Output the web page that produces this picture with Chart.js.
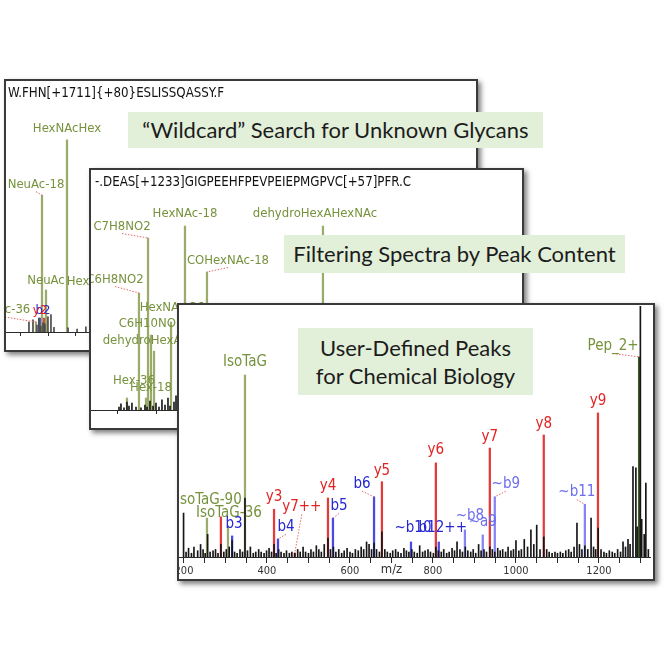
<!DOCTYPE html>
<html><head><meta charset="utf-8">
<script src="https://cdn.jsdelivr.net/npm/chart.js@4.4.1/dist/chart.umd.min.js"></script>
<style>
html,body{margin:0;padding:0;background:#fff;width:664px;height:664px;overflow:hidden;}
.panel{position:absolute;background:#fff;border:2px solid #3a3a3a;box-shadow:3px 3px 5px rgba(0,0,0,0.5);overflow:hidden;box-sizing:border-box;}
.panel canvas{position:absolute;top:0;}
.box{position:absolute;background:#e2efd9;color:#1c1c1c;font-family:Lato,"Open Sans",sans-serif;display:flex;flex-direction:column;align-items:center;justify-content:center;white-space:nowrap;line-height:1.25;}
</style></head><body>
<div class="panel" id="p1" style="left:4px;top:79px;width:474px;height:273px;z-index:1"><canvas id="c1" width="470" height="269" style="left:0"></canvas></div>
<div class="box" style="left:128px;top:112px;width:415px;height:36px;z-index:2;font-size:22px">“Wildcard” Search for Unknown Glycans</div>
<div class="panel" id="p2" style="left:89px;top:168px;width:435px;height:262px;z-index:3"><canvas id="c2" width="431" height="258" style="left:0"></canvas></div>
<div class="box" style="left:284px;top:235px;width:341px;height:38px;z-index:4;font-size:22px">Filtering Spectra by Peak Content</div>
<div class="panel" id="p3" style="left:177px;top:303px;width:478px;height:278px;z-index:5"><canvas id="c3" width="504" height="274" style="left:-30px"></canvas></div>
<div class="box" style="left:298px;top:328px;width:235px;height:67px;z-index:6;font-size:22px"><div>User-Defined Peaks</div><div>for Chemical Biology</div></div>
<script>
// ---------------- Panel 1: glycan "wildcard" search ----------------
const P1_TITLE = 'W.FHN[+1711]{+80}ESLISSQASSY.F';
const P1_ION_LABELS = ['NeuAc-36', 'b2', 'y2', 'NeuAc-18', 'NeuAc', 'HexNAcHex', 'HexNAcHexNeuAc'];
const P1_ION_MZ     = [254.5, 269, 283.6, 276.4, 290.9, 367.3, 657];
const P1_ION_INT    = [4.3, 6, 6, 59, 18.1, 82.8, 17];
const P1_ION_TYPE   = ['glyco', 'b', 'y', 'glyco', 'glyco', 'glyco', 'glyco'];
const P1_NOISE = [[229,4.3],[243.6,5.2],[258,3],[265,6],[272,2.5],[280,4],[287,3.5],[298,6.5],[309,7.5],[320,2],[371,1.8],[404,1.3],[436,2.2],[470,1.5],[512,1],[545,1.5],[590,1.2]];
const P1_TICKS = [200,300,400,500,600,700,800,900,1000,1100,1200,1300,1400,1500,1600,1700,1800];

// ---------------- Panel 2: filtering by peak content ----------------
const P2_TITLE = '-.DEAS[+1233]GIGPEEHFPEVPEIEPMGPVC[+57]PFR.C';
const P2_ION_LABELS = ['Hex-36', 'C6H8NO2', 'Hex-18', 'C7H8NO2', 'C6H10NO3', 'dehydroHexA', 'HexNAc-36', 'HexNAc-18', 'COHexNAc-18', 'dehydroHexAHexNAc'];
const P2_ION_MZ     = [111.5, 126.9, 135.9, 138.5, 142.3, 146.2, 168, 185.9, 214.1, 362.8];
const P2_ION_INT    = [5.7, 55.7, 5.7, 81.9, 35.7, 28, 41.9, 87.6, 65.7, 87.6];
const P2_ION_TYPE   = ['glyco','glyco','glyco','glyco','glyco','glyco','glyco','glyco','glyco','glyco'];
const P2_NOISE = [[101.3,1.4],[103.8,2.9],[107.7,1],[111.5,3.8],[114.1,1.9],[117.9,3.3],[123.1,1.4],[129.5,1],[134.6,2.4],[137.2,1.4],[141,4.3],[144.9,1.9],[148.7,3.3],[152.6,1.4],[156.4,4.8],[160.3,2.4],[164.1,5.7],[166.7,1.9],[171.8,3.8],[174.4,6.7]];
const P2_TICKS = [100,150,200,250,300,350,400,450,500,550,600];

// ---------------- Panel 3: user-defined peaks ----------------
const P3_ION_LABELS = ['isoTaG-90','','IsoTaG-36','b3','IsoTaG','y3','b4','y7++','y4','b5','b6','y5','~b10','y6','b12++','~b8','~a9','y7','~b9','y8','~b11','y9','Pep_2+'];
const P3_ION_MZ     = [255.4, 289, 306, 316, 347, 417, 426.5, 467, 547, 559, 658, 677, 747, 807, 814, 877, 920, 937, 949, 1067, 1166, 1197.6, 1296.7];
const P3_ION_INT    = [15.5, 16, 12, 8.4, 72.5, 19, 7.2, 1.6, 23.5, 15.5, 24, 30, 6, 37.5, 6, 10.8, 8.8, 43.4, 24, 48.6, 21, 57.4, 79.7];
const P3_ION_TYPE   = ['glyco','y','glyco','b','glyco','y','b','y','y','b','b','y','b','y','b','bw','bw','y','bw','y','bw','y','pep'];
const P3_NOISE = [[199,17.5],[205,2],[211,3.5],[218,1.5],[224,4],[233,2.5],[240,5],[246,3],[251,1.5],[257,9],[263,2],[270,2.5],[276,3],[282,1.5],[289,5],[296,2],[302,3],[309,4],[316,6.5],[322,2],[328,1.5],[335,3],[341,2],[347,23.5],[353,2.5],[360,4],[367,1.5],[373,2],[380,3],[386,2],[393,1.5],[399,2.5],[405,3.5],[411,2],[417,5],[422,1.5],[428,3],[434,2],[441,1.5],[447,2.5],[454,1.5],[460,2],[467,1.5],[474,3],[480,2],[487,4],[493,2],[500,1.5],[506,3],[512,2],[519,4.5],[525,3],[531,2],[538,5],[547,7.5],[553,3],[560,4],[566,2],[573,3],[580,1.5],[586,2.5],[593,3.5],[600,2],[606,1.5],[613,3],[620,2.5],[627,4],[633,3],[640,6],[646,5],[652,3],[658,5.5],[664,3],[671,2],[677,10],[684,3],[690,2],[697,1.5],[703,2.5],[710,3],[716,2],[723,1.5],[730,3.5],[736,2.5],[742,2],[749,3],[755,2],[762,1.5],[768,4.5],[775,2],[781,2.5],[788,3],[794,2],[801,1.5],[807,4],[813,2.5],[820,2],[826,3],[833,1.5],[839,2],[846,3.5],[852,2.5],[858,6],[865,3],[871,2],[878,4],[884,2.5],[891,2],[897,3],[903,1.5],[910,5],[916,2.5],[923,3],[929,2],[937,4],[943,3],[949,2],[956,3.5],[962,2.5],[968,3],[975,2],[981,4],[988,2.5],[994,3],[1000,6.5],[1007,2.5],[1013,3],[1020,7],[1028,4],[1036,10.8],[1043,5],[1050,12.7],[1058,3],[1067,8],[1074,3],[1080,2],[1087,1.5],[1094,2],[1100,1.5],[1107,2],[1113,1.5],[1120,2.5],[1127,3],[1133,2],[1140,4],[1147,13.5],[1153,5],[1159,3],[1166,4.5],[1173,3],[1181,15.5],[1187,4],[1192,3],[1198,11.5],[1205,3],[1212,2],[1218,1.5],[1225,2.5],[1232,2],[1238,1.5],[1245,3],[1252,2],[1258,6],[1264,4],[1270,7],[1275,5],[1282,36],[1289,35.5],[1292,12],[1299.8,100],[1303,15],[1309,9],[1313,29.5],[1319,3]];
const P3_TICKS = [200,250,300,350,400,450,500,550,600,650,700,750,800,850,900,950,1000,1050,1100,1150,1200,1250,1300];
const P3_TICK_LABELS = ['200','400','600','800','1000','1200'];
const P3_AXIS_TITLE = 'm/z';

// ---------------- styles (not data) ----------------
const COLORS = {
  glyco: {label:'#76923c', line:'#9aab6c'},
  pep:   {label:'#76923c', line:'#3f5a26'},
  y:     {label:'#e32222', line:'#e53a3a'},
  b:     {label:'#2525d4', line:'#4a4ae2'},
  bw:    {label:'#6c6cf0', line:'#8484f4'}
};
const SMALL_FONT = '"DejaVu Sans Condensed","Liberation Sans",Arial,sans-serif';
// label offsets [dx, dy, leader] relative to the peak top (pixels)
const P1_LABEL_POS = [[-34,-12,1],[3,-7,0],[-4,-7,0],[-6,-10,1],[0,-9,0],[0,-11,0],[-27,-11,1]];
const P2_LABEL_POS = [[7,-17,0],[-24,-13,1],[5,-10,0],[-26,-11,1],[0,-11,0],[-12,-11,0],[1,-14,0],[0,-12,0],[21,-11,1],[-8,-12,0]];
const P3_LABEL_POS = [[2,-18,0],[0,-12,0],[1,-14,0],[2,-12,0],[0,-13,0],[0,-12,0],[8,-12,1],[7,-46,1],[0,-12,0],[6,-12,1],[-12,-13,1],[0,-11,0],[2,-14,0],[0,-13,0],[4,-14,0],[5,-14,0],[0,-13,0],[0,-11,0],[11,-13,1],[0,-11,0],[-8,-12,1],[0,-12,0],[-26,-11,1]];

function labelPlugin(spec){
  return {
    id: 'peakLabels',
    afterDatasetsDraw(chart){
      const ctx = chart.ctx, xs = chart.scales.x, ys = chart.scales.y;
      ctx.save();
      ctx.textAlign = 'center';
      ctx.textBaseline = 'middle';
      ctx.font = spec.labelSize + 'px ' + SMALL_FONT;
      spec.labels.forEach((text, i) => {
        if (!text) return;
        const px = xs.getPixelForValue(spec.mz[i]);
        const py = ys.getPixelForValue(spec.ints[i]);
        const pos = spec.labelPos[i] || [0,-12,0];
        const lx = px + pos[0], ly = py + pos[1];
        if (pos[2]) {
          ctx.save();
          ctx.strokeStyle = '#e46a6a';
          ctx.lineWidth = 1;
          ctx.setLineDash([1.5,1.5]);
          ctx.beginPath();
          ctx.moveTo(lx, ly + spec.labelSize*0.5);
          ctx.lineTo(px, py);
          ctx.stroke();
          ctx.restore();
        }
        ctx.fillStyle = COLORS[spec.types[i]].label;
        ctx.fillText(text, lx, ly);
      });
      if (spec.title) {
        ctx.textAlign = 'left';
        ctx.fillStyle = '#111';
        ctx.font = '13.2px ' + SMALL_FONT;
        ctx.fillText(spec.title, spec.titlePos[0], spec.titlePos[1]);
      }
      if (spec.axisTitle) {
        ctx.textAlign = 'center';
        ctx.fillStyle = '#333';
        ctx.font = '13px ' + SMALL_FONT;
        ctx.fillText(spec.axisTitle, xs.getPixelForValue(spec.axisTitleValue), spec.axisTitleY);
      }
      ctx.restore();
    }
  };
}

function buildChart(id, spec){
  const ions = spec.mz.map((m,i) => ({x:m, y:spec.ints[i]}));
  const noise = spec.noise.map(p => ({x:p[0], y:p[1]}));
  return new Chart(document.getElementById(id), {
    type: 'bar',
    data: { datasets: [
      { data: noise, backgroundColor: spec.noiseColor, barThickness: 1, grouped: false, order: 0, borderWidth: 0 },
      { data: ions, backgroundColor: spec.types.map(t => COLORS[t].line), barThickness: 1.6, grouped: false, order: 1, borderWidth: 0 }
    ]},
    options: {
      responsive: false, animation: false, devicePixelRatio: 1, events: [],
      layout: { padding: spec.padding },
      plugins: { legend: {display:false}, tooltip: {enabled:false} },
      scales: {
        x: {
          type: 'linear', min: spec.min, max: spec.max, offset: false,
          afterBuildTicks: s => { s.ticks = spec.ticks.map(v => ({value:v})); },
          afterFit: s => { s.height = spec.axisHeight; },
          grid: { drawOnChartArea: false, drawTicks: true, tickLength: spec.tickLength, color: '#2a2a2a', lineWidth: 1, offset: false },
          border: { display: true, color: '#2a2a2a', width: 1 },
          ticks: { autoSkip: false, maxRotation: 0, minRotation: 0, padding: 2, color: '#333',
                   font: { family: SMALL_FONT, size: 11 },
                   callback: v => spec.tickLabels.includes(String(v)) ? String(v) : '' }
        },
        y: { display: false, min: 0, max: 100 }
      }
    },
    plugins: [labelPlugin(spec)]
  });
}

buildChart('c1', {
  labels: P1_ION_LABELS, mz: P1_ION_MZ, ints: P1_ION_INT, types: P1_ION_TYPE, labelPos: P1_LABEL_POS,
  noise: P1_NOISE, noiseColor: '#4a4a4a', ticks: P1_TICKS, tickLabels: [],
  min: 145.5, max: 1854.5, padding: {left:0, right:0, top:19, bottom:10}, axisHeight: 8, tickLength: 4,
  labelSize: 13, title: P1_TITLE, titlePos: [2, 13]
});
buildChart('c2', {
  labels: P2_ION_LABELS, mz: P2_ION_MZ, ints: P2_ION_INT, types: P2_ION_TYPE, labelPos: P2_LABEL_POS,
  noise: P2_NOISE, noiseColor: '#1a1a1a', ticks: P2_TICKS, tickLabels: [],
  min: 65.4, max: 618, padding: {left:0, right:0, top:30, bottom:10}, axisHeight: 8, tickLength: 4,
  labelSize: 13, title: P2_TITLE, titlePos: [4, 13]
});
buildChart('c3', {
  labels: P3_ION_LABELS, mz: P3_ION_MZ, ints: P3_ION_INT, types: P3_ION_TYPE, labelPos: P3_LABEL_POS,
  noise: P3_NOISE, noiseColor: '#151515', ticks: P3_TICKS, tickLabels: P3_TICK_LABELS,
  min: 188, max: 1323, padding: {left:30, right:3, top:1, bottom:2}, axisHeight: 20, tickLength: 6,
  labelSize: 15, axisTitle: P3_AXIS_TITLE, axisTitleValue: 700, axisTitleY: 265
});
</script>
</body></html>
